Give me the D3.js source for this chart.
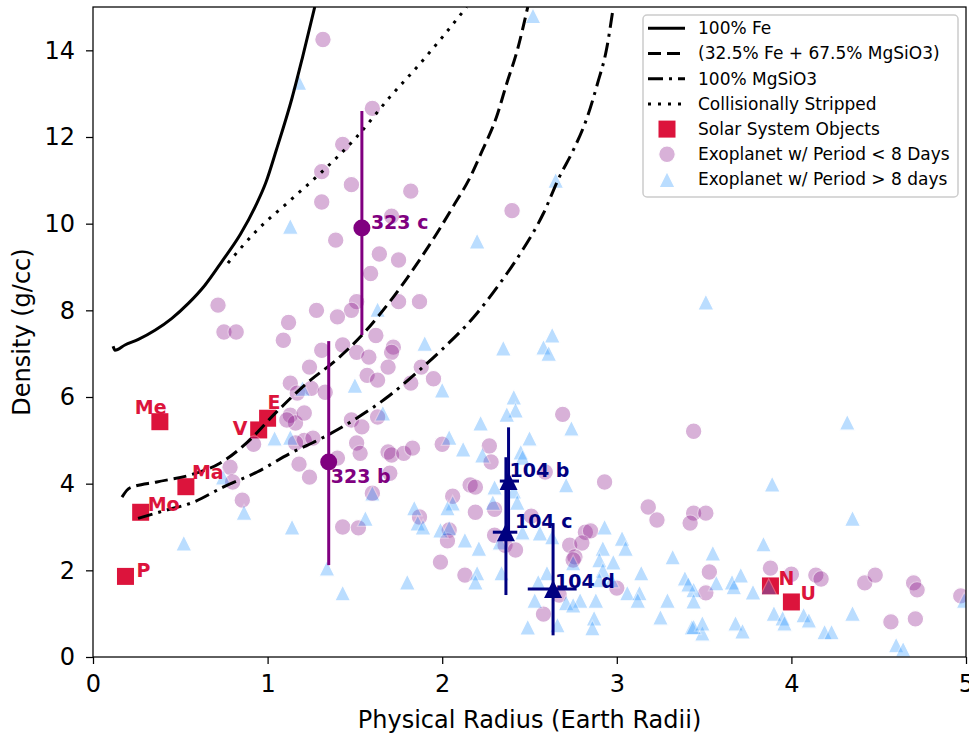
<html>
<head>
<style>
body { margin: 0; background: white; }
svg { font-family: "DejaVu Sans", sans-serif; }
.axis .domain { display: none; }
.axis line { stroke: black; stroke-width: 1.25; }
.axis text { font-size: 24px; fill: black; font-family: "DejaVu Sans", sans-serif; }
.legend text { font-size: 17px; fill: black; }
.tag { font-size: 19px; font-weight: bold; }
</style>
</head>
<body>
<div id="plot"></div>
<script src="https://d3js.org/d3.v7.min.js"></script>
<script>

// ---- data (radius in Earth radii, density in g/cc) ----
let solarNames = ["Me", "V", "E", "Ma", "Mo", "P", "N", "U"]
let solarRadius = [0.383, 0.949, 1.0, 0.532, 0.273, 0.186, 3.88, 4.0]
let solarDensity = [5.43, 5.24, 5.51, 3.93, 3.34, 1.86, 1.64, 1.27]

// exoplanets, period < 8 days  [radius, density]
let shortPeriod = [
    [1.317, 14.25], [1.60, 12.66], [1.43, 11.83], [1.31, 11.2], [1.48, 10.9], [1.31, 10.5],
    [1.82, 10.75], [1.71, 10.17], [1.39, 9.62], [1.64, 9.3], [1.75, 9.16], [1.59, 8.85],
    [0.716, 8.12], [1.28, 8.0], [1.51, 8.2], [1.48, 8.0], [1.40, 7.85], [1.12, 7.72],
    [1.75, 8.2], [1.87, 8.2], [0.75, 7.5], [0.82, 7.5], [1.62, 7.42], [1.09, 7.31],
    [1.31, 7.08], [1.43, 7.2], [1.51, 7.03], [1.58, 6.92], [1.72, 7.15], [1.71, 7.03],
    [1.24, 6.69], [1.69, 6.69], [1.57, 6.5], [1.63, 6.39], [1.13, 6.32], [1.25, 6.2],
    [1.17, 6.09], [1.33, 6.11], [1.82, 6.32], [1.13, 5.58], [1.16, 5.4], [1.21, 5.63],
    [1.11, 5.47], [1.48, 5.47], [1.54, 5.31], [1.63, 5.54], [0.92, 4.91], [1.21, 5.0],
    [1.26, 5.05], [1.16, 4.94], [1.51, 4.94], [1.53, 4.7], [1.40, 4.59], [1.18, 4.45],
    [1.24, 4.15], [1.69, 4.73], [1.71, 4.66], [1.78, 4.7], [1.83, 4.82], [1.70, 4.24],
    [1.60, 3.78], [0.785, 4.38], [0.80, 4.04], [0.855, 3.62], [1.43, 3.0], [1.52, 2.98],
    [1.87, 3.23], [1.88, 6.69], [1.95, 6.42], [2.40, 10.3], [2.69, 5.6], [3.44, 5.21],
    [2.0, 4.91], [2.27, 4.87], [2.28, 4.5], [2.16, 3.97], [2.19, 3.92], [2.59, 4.27],
    [2.93, 4.04], [2.06, 3.71], [2.19, 3.34], [2.30, 3.41], [2.04, 2.93], [2.03, 2.68],
    [2.30, 2.81], [2.36, 2.58], [2.42, 2.47], [2.51, 3.25], [2.82, 2.88], [2.85, 2.91],
    [2.73, 2.58], [2.80, 2.63], [2.76, 2.31], [2.75, 2.24], [1.99, 2.19], [2.13, 1.89],
    [3.18, 3.46], [3.23, 3.16], [3.44, 3.32], [3.51, 3.32], [3.42, 3.09], [3.0, 1.59],
    [2.67, 1.43], [2.58, 0.99], [3.53, 1.96], [3.51, 1.48], [3.88, 2.05], [4.0, 1.91],
    [4.14, 1.89], [4.17, 1.8], [4.42, 1.71], [4.48, 1.89], [4.70, 1.71], [4.72, 1.55],
    [4.97, 1.41], [4.57, 0.81], [4.71, 0.88]
]

// exoplanets, period > 8 days  [radius, density]
let longPeriod = [
    [1.18, 13.26], [1.13, 9.94], [1.63, 8.02], [1.20, 6.2], [1.50, 6.27], [1.04, 5.05],
    [1.13, 5.07], [1.66, 5.63], [0.745, 4.15], [0.865, 3.34], [1.14, 3.0], [0.52, 2.63],
    [1.60, 3.78], [1.56, 3.2], [1.84, 3.44], [1.86, 3.09], [1.34, 2.05], [1.43, 1.48],
    [1.80, 1.73], [2.52, 14.8], [2.65, 11.0], [2.20, 9.6], [3.51, 8.19], [1.90, 7.24],
    [2.35, 7.13], [2.63, 7.43], [2.58, 7.15], [2.61, 7.01], [2.0, 6.16], [2.41, 6.0],
    [2.42, 5.7], [2.37, 5.6], [2.22, 5.4], [2.74, 5.28], [2.50, 5.05], [2.04, 5.07],
    [2.12, 4.8], [2.23, 4.66], [2.45, 4.73], [2.46, 4.61], [2.71, 3.97], [2.30, 3.92],
    [2.41, 3.83], [2.43, 3.57], [2.29, 3.57], [2.06, 3.55], [2.03, 3.44], [1.89, 3.0],
    [1.99, 2.93], [2.04, 2.98], [2.13, 2.7], [2.21, 2.51], [2.33, 2.65], [2.46, 2.88],
    [2.56, 2.86], [2.63, 2.77], [2.93, 3.0], [3.03, 2.74], [3.05, 2.51], [2.92, 2.51],
    [2.90, 2.24], [2.98, 2.19], [2.20, 1.94], [2.19, 1.73], [2.34, 1.94], [2.60, 1.94],
    [2.55, 1.73], [2.75, 2.17], [2.92, 2.0], [3.14, 1.94], [2.90, 1.78], [2.97, 1.78],
    [3.06, 1.48], [3.13, 1.48], [3.12, 1.31], [3.32, 2.31], [3.39, 1.82], [3.44, 1.55],
    [2.88, 1.31], [2.79, 1.31], [2.71, 1.25], [2.75, 1.2], [2.53, 1.31], [2.66, 0.74],
    [2.49, 0.69], [2.87, 0.9], [2.86, 0.67], [3.25, 0.92], [3.29, 1.31], [3.43, 0.69],
    [3.49, 0.55], [4.32, 5.42], [3.89, 3.99], [4.35, 3.2], [3.84, 2.61], [3.55, 2.4],
    [3.41, 1.68], [3.44, 1.29], [3.57, 1.71], [3.66, 1.73], [3.71, 1.89], [3.67, 1.62],
    [3.78, 1.5], [3.87, 1.62], [3.90, 1.01], [3.95, 0.9], [3.96, 0.78], [4.07, 0.97],
    [4.10, 0.85], [4.19, 0.58], [4.23, 0.58], [4.35, 1.01], [3.44, 0.7], [3.49, 0.78],
    [4.60, 0.28], [4.64, 0.18], [4.99, 1.31], [3.68, 0.78], [3.72, 0.6]
]

// composition curves  [radius, density]
let feCurve = [[0.115, 7.17], [0.126, 7.08], [0.183, 7.2], [0.26, 7.33], [0.355, 7.54], [0.45, 7.81],
    [0.546, 8.16], [0.641, 8.58], [0.737, 9.12], [0.845, 9.76], [0.93, 10.4], [0.99, 10.95],
    [1.05, 11.7], [1.14, 12.9], [1.20, 13.84], [1.27, 15.0]]
let mixCurve = [[0.166, 3.69], [0.21, 3.9], [0.366, 4.04], [0.556, 4.2], [0.727, 4.47], [0.88, 4.94],
    [1.05, 5.65], [1.225, 6.32], [1.40, 6.88], [1.55, 7.47], [1.70, 8.2], [1.87, 9.16],
    [1.97, 9.78], [2.06, 10.38], [2.16, 11.07], [2.23, 11.69], [2.31, 12.45], [2.37, 13.24],
    [2.43, 14.0], [2.49, 15.0]]
let mgCurve = [[0.258, 3.2], [0.42, 3.39], [0.573, 3.57], [0.745, 3.92], [0.94, 4.27], [1.13, 4.7],
    [1.32, 5.07], [1.51, 5.51], [1.70, 6.04], [1.87, 6.62], [2.0, 7.1], [2.18, 7.84],
    [2.33, 8.62], [2.46, 9.39], [2.58, 10.24], [2.67, 11.07], [2.75, 11.69], [2.83, 12.45],
    [2.89, 13.24], [2.94, 14.0], [2.98, 15.0]]
let strippedCurve = [[0.773, 9.09], [0.94, 9.85], [1.13, 10.54], [1.32, 11.23], [1.51, 12.0],
    [1.70, 12.92], [1.87, 13.68], [2.0, 14.3], [2.14, 15.0]]

// highlighted planets
let k323Names = ["323 b", "323 c"]
let k323Radius = [1.35, 1.54]
let k323Density = [4.5, 9.9]
let k323Lo = [2.38, 2.47]
let k323Hi = [2.79, 2.7]

let k104Names = ["104 b", "104 c", "104 d"]
let k104Radius = [2.38, 2.365, 2.635]
let k104Density = [4.06, 2.88, 1.57]
let k104RadLo = [0.05, 0.075, 0.145]
let k104RadHi = [0.06, 0.065, 0.135]
let k104Lo = [1.25, 1.45, 1.07]
let k104Hi = [1.24, 1.73, 1.52]

let xTicks = [0, 1, 2, 3, 4, 5]
let yTicks = [0, 2, 4, 6, 8, 10, 12, 14]

let legendLabels = ["100% Fe", "(32.5% Fe + 67.5% MgSiO3)", "100% MgSiO3", "Collisionally Stripped",
    "Solar System Objects", "Exoplanet w/ Period < 8 Days", "Exoplanet w/ Period > 8 days"]

// ---- chart ----
let width = 969
let height = 734
let margin = {top: 7, right: 3, bottom: 77, left: 93}

let purple = "#800080", crimson = "#dc143c", blue = "#1e90ff", navy = "#000080"

let svg = d3.select("#plot")
    .append("svg")
    .attr("width", width)
    .attr("height", height)

let x = d3.scaleLinear()
    .domain([0, 5])
    .range([margin.left, width - margin.right])

let y = d3.scaleLinear()
    .domain([0, 15])
    .range([height - margin.bottom, margin.top])

svg.append("clipPath")
    .attr("id", "clip")
    .append("rect")
    .attr("x", margin.left)
    .attr("y", margin.top)
    .attr("width", width - margin.left - margin.right)
    .attr("height", height - margin.top - margin.bottom)

let plot = svg.append("g").attr("clip-path", "url(#clip)")

let tri = s => `M0,${-s / 2}L${s / 2},${s / 2}L${-s / 2},${s / 2}Z`

// solar system squares
plot.append("g")
    .selectAll("rect")
    .data(solarNames)
    .join("rect")
    .attr("x", (d, i) => x(solarRadius[i]) - 8.5)
    .attr("y", (d, i) => y(solarDensity[i]) - 8.5)
    .attr("width", 17)
    .attr("height", 17)
    .style("fill", crimson)

// short period circles
plot.append("g")
    .selectAll("circle")
    .data(shortPeriod)
    .join("circle")
    .attr("cx", d => x(d[0]))
    .attr("cy", d => y(d[1]))
    .attr("r", 8.3)
    .style("fill", purple)
    .style("stroke", "white")
    .style("stroke-width", 1.2)
    .style("opacity", 0.3)

// long period triangles
plot.append("g")
    .selectAll("path")
    .data(longPeriod)
    .join("path")
    .attr("d", tri(16))
    .attr("transform", d => `translate(${x(d[0])},${y(d[1])})`)
    .style("fill", blue)
    .style("stroke", "white")
    .style("stroke-width", 1.2)
    .style("opacity", 0.3)

// composition curves
let line = d3.line()
    .x(d => x(d[0]))
    .y(d => y(d[1]))
    .curve(d3.curveMonotoneX)

let curves = [
    {pts: feCurve, dash: null},
    {pts: mixCurve, dash: "13,6"},
    {pts: mgCurve, dash: "15,6,3,6"},
    {pts: strippedCurve, dash: "3,7"}
]

plot.append("g")
    .selectAll("path")
    .data(curves)
    .join("path")
    .attr("d", d => line(d.pts))
    .style("fill", "none")
    .style("stroke", "black")
    .style("stroke-width", 3)
    .style("stroke-dasharray", d => d.dash)

// Kepler-323
let g323 = plot.append("g")
g323.selectAll("line")
    .data(k323Names)
    .join("line")
    .attr("x1", (d, i) => x(k323Radius[i]))
    .attr("x2", (d, i) => x(k323Radius[i]))
    .attr("y1", (d, i) => y(k323Density[i] - k323Lo[i]))
    .attr("y2", (d, i) => y(k323Density[i] + k323Hi[i]))
    .style("stroke", purple)
    .style("stroke-width", 3)
g323.selectAll("circle")
    .data(k323Names)
    .join("circle")
    .attr("cx", (d, i) => x(k323Radius[i]))
    .attr("cy", (d, i) => y(k323Density[i]))
    .attr("r", 8.5)
    .style("fill", purple)

// Kepler-104
let g104 = plot.append("g")
g104.selectAll(".v")
    .data(k104Names)
    .join("line")
    .attr("class", "v")
    .attr("x1", (d, i) => x(k104Radius[i]))
    .attr("x2", (d, i) => x(k104Radius[i]))
    .attr("y1", (d, i) => y(k104Density[i] - k104Lo[i]))
    .attr("y2", (d, i) => y(k104Density[i] + k104Hi[i]))
    .style("stroke", navy)
    .style("stroke-width", 3)
g104.selectAll(".h")
    .data(k104Names)
    .join("line")
    .attr("class", "h")
    .attr("x1", (d, i) => x(k104Radius[i] - k104RadLo[i]))
    .attr("x2", (d, i) => x(k104Radius[i] + k104RadHi[i]))
    .attr("y1", (d, i) => y(k104Density[i]))
    .attr("y2", (d, i) => y(k104Density[i]))
    .style("stroke", navy)
    .style("stroke-width", 3)
g104.selectAll("path")
    .data(k104Names)
    .join("path")
    .attr("d", tri(18))
    .attr("transform", (d, i) => `translate(${x(k104Radius[i])},${y(k104Density[i])})`)
    .style("fill", navy)

// labels (pixel offsets from each marker)
let solarOffset = [[-25, -8], [-26, 5], [0, -9], [6, -8], [7, -1], [11, 1], [8, -1], [9, -2]]
svg.append("g")
    .selectAll("text")
    .data(solarNames)
    .join("text")
    .attr("class", "tag")
    .attr("x", (d, i) => x(solarRadius[i]) + solarOffset[i][0])
    .attr("y", (d, i) => y(solarDensity[i]) + solarOffset[i][1])
    .style("fill", crimson)
    .text(d => d)

let k323Offset = [[2, 21], [9, 1]]
svg.append("g")
    .selectAll("text")
    .data(k323Names)
    .join("text")
    .attr("class", "tag")
    .attr("x", (d, i) => x(k323Radius[i]) + k323Offset[i][0])
    .attr("y", (d, i) => y(k323Density[i]) + k323Offset[i][1])
    .style("fill", purple)
    .text(d => d)

let k104Offset = [[1, -4], [9, -4], [2, -1]]
svg.append("g")
    .selectAll("text")
    .data(k104Names)
    .join("text")
    .attr("class", "tag")
    .attr("x", (d, i) => x(k104Radius[i]) + k104Offset[i][0])
    .attr("y", (d, i) => y(k104Density[i]) + k104Offset[i][1])
    .style("fill", navy)
    .text(d => d)

// axes
svg.append("g")
    .attr("class", "axis")
    .attr("transform", `translate(0, ${height - margin.bottom})`)
    .call(d3.axisBottom(x).tickValues(xTicks).tickSize(7).tickPadding(11).tickFormat(d3.format("d")))

svg.append("g")
    .attr("class", "axis")
    .attr("transform", `translate(${margin.left}, 0)`)
    .call(d3.axisLeft(y).tickValues(yTicks).tickSize(7).tickPadding(11).tickFormat(d3.format("d")))

svg.append("rect")
    .attr("x", margin.left)
    .attr("y", margin.top)
    .attr("width", width - margin.left - margin.right)
    .attr("height", height - margin.top - margin.bottom)
    .style("fill", "none")
    .style("stroke", "black")
    .style("stroke-width", 1.25)

svg.append("text")
    .attr("x", (margin.left + width - margin.right) / 2)
    .attr("y", 728)
    .attr("text-anchor", "middle")
    .style("font-size", "24px")
    .text("Physical Radius (Earth Radii)")

svg.append("text")
    .attr("transform", `translate(30, ${(margin.top + height - margin.bottom) / 2}) rotate(-90)`)
    .attr("text-anchor", "middle")
    .style("font-size", "24px")
    .text("Density (g/cc)")

// legend
let legend = svg.append("g")
    .attr("class", "legend")
    .attr("transform", "translate(643, 15)")

legend.append("rect")
    .attr("width", 315)
    .attr("height", 182)
    .attr("rx", 4)
    .style("fill", "white")
    .style("fill-opacity", 0.8)
    .style("stroke", "#cccccc")
    .style("stroke-width", 1.5)

let rowY = i => 13.3 + i * 25.2

legend.selectAll(".lh")
    .data(curves)
    .join("line")
    .attr("class", "lh")
    .attr("x1", 5)
    .attr("x2", 42)
    .attr("y1", (d, i) => rowY(i))
    .attr("y2", (d, i) => rowY(i))
    .style("stroke", "black")
    .style("stroke-width", 3)
    .style("stroke-dasharray", d => d.dash)

legend.append("rect")
    .attr("x", 24 - 8.5)
    .attr("y", rowY(4) - 8.5)
    .attr("width", 17)
    .attr("height", 17)
    .style("fill", crimson)
legend.append("circle")
    .attr("cx", 24)
    .attr("cy", rowY(5))
    .attr("r", 8.3)
    .style("fill", purple)
    .style("stroke", "white")
    .style("stroke-width", 1.2)
    .style("opacity", 0.3)
legend.append("path")
    .attr("d", tri(16))
    .attr("transform", `translate(24, ${rowY(6)})`)
    .style("fill", blue)
    .style("stroke", "white")
    .style("stroke-width", 1.2)
    .style("opacity", 0.3)

legend.selectAll("text")
    .data(legendLabels)
    .join("text")
    .attr("x", 55)
    .attr("y", (d, i) => rowY(i))
    .attr("dy", "0.35em")
    .text(d => d)

</script>
</body>
</html>
